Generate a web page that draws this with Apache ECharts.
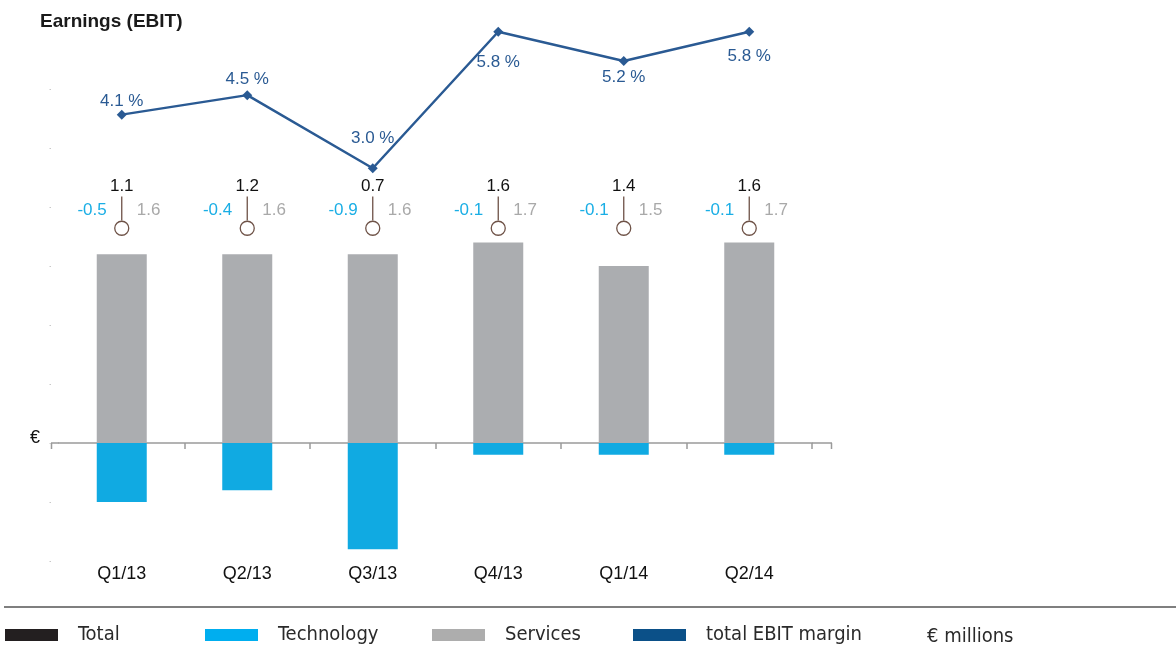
<!DOCTYPE html>
<html>
<head>
<meta charset="utf-8">
<script src="https://cdn.jsdelivr.net/npm/echarts@6/dist/echarts.min.js"></script>
<style>
html,body{margin:0;padding:0;background:#fff;}
#chart{width:1176px;height:645px;}
</style>
</head>
<body>
<div id="chart"></div>
<script>
// ---- data ----
const categories = ['Q1/13', 'Q2/13', 'Q3/13', 'Q4/13', 'Q1/14', 'Q2/14'];
const totalValues = [1.1, 1.2, 0.7, 1.6, 1.4, 1.6];
const technologyValues = [-0.5, -0.4, -0.9, -0.1, -0.1, -0.1];
const servicesValues = [1.6, 1.6, 1.6, 1.7, 1.5, 1.7];
const marginValues = [4.1, 4.5, 3.0, 5.8, 5.2, 5.8];

// ---- style config ----
const marginLabelPlacement = ['top', 'top', 'top', 'bottom', 'bottom', 'bottom'];
const marginLabelDistance = [0, 2, 16, 17, 3, 11];
const LINE_BLUE = '#2a5a93';
const TECH_BLUE = '#10aae2';
const SERV_GRAY = '#abadb0';
const MARK_BROWN = '#6e5247';
const labelFont = "'Liberation Sans', Arial, sans-serif";
const narrowFont = "'Liberation Sans Narrow', 'DejaVu Sans Condensed', 'Liberation Sans', sans-serif";

const chart = echarts.init(document.getElementById('chart'), null, {renderer: 'canvas'});

const GRID_L = 59, GRID_R = 1176 - 812;

const totalData = categories.map((c, i) => [i, totalValues[i], technologyValues[i], servicesValues[i]]);

function renderTotal(params, api) {
  const i = api.value(0);
  const x = api.coord([i, 0])[0];
  const yCircle = api.coord([i, 1.82])[1];
  const yLineTop = api.coord([i, 2.09])[1];
  const yLineBot = api.coord([i, 1.885])[1];
  const yTotal = api.coord([i, 2.175])[1];
  const ySide = api.coord([i, 1.97])[1];
  const fmt = v => v.toFixed(1);
  return {
    type: 'group',
    children: [
      {type: 'line', shape: {x1: x, y1: yLineTop, x2: x, y2: yLineBot}, style: {stroke: MARK_BROWN, lineWidth: 1.3}},
      {type: 'circle', shape: {cx: x, cy: yCircle, r: 7}, style: {fill: '#fff', stroke: MARK_BROWN, lineWidth: 1.3}},
      {type: 'text', x: x, y: yTotal, style: {text: fmt(api.value(1)), fill: '#111', font: '17px ' + labelFont, align: 'center', verticalAlign: 'middle'}},
      {type: 'text', x: x - 15, y: ySide, style: {text: fmt(api.value(2)), fill: '#1aaee5', font: '17px ' + labelFont, align: 'right', verticalAlign: 'middle'}},
      {type: 'text', x: x + 15, y: ySide, style: {text: fmt(api.value(3)), fill: '#a9a9a9', font: '17px ' + labelFont, align: 'left', verticalAlign: 'middle'}}
    ]
  };
}

const marginData = marginValues.map((v, i) => ({
  value: v,
  label: {position: marginLabelPlacement[i], distance: marginLabelDistance[i]}
}));

function legendItem(name, color, left) {
  return {
    left: left, top: 623, padding: 0,
    itemWidth: 53, itemHeight: 12, selectedMode: false,
    data: [{name: name, icon: 'rect', itemStyle: {color: color}}],
    textStyle: {fontFamily: narrowFont, fontSize: 20, color: '#2a2a2a', padding: [4, 0, 0, 15], lineHeight: 20}
  };
}

const option = {
  animation: false,
  backgroundColor: '#fff',
  title: {
    text: 'Earnings (EBIT)', left: 35, top: 7,
    textStyle: {fontFamily: labelFont, fontWeight: 'bold', fontSize: 19, color: '#1a1a1a'}
  },
  legend: [
    legendItem('Total', '#231f20', 5),
    legendItem('Technology', '#00aeef', 205),
    legendItem('Services', '#adadad', 432),
    legendItem('total EBIT margin', '#0b5088', 633)
  ],
  grid: [
    {left: GRID_L, right: GRID_R, top: 89, height: 472, outerBoundsMode: 'none', containLabel: false},
    {left: GRID_L, right: GRID_R, top: 22, height: 195, outerBoundsMode: 'none', containLabel: false},
    {left: GRID_L, right: GRID_R, top: 89, height: 472, outerBoundsMode: 'none', containLabel: false}
  ],
  xAxis: [
    {
      type: 'category', gridIndex: 0, data: categories, boundaryGap: true,
      axisLine: {onZero: true, lineStyle: {color: '#9a9a9a', width: 1.5}},
      axisTick: {show: true, length: 6, interval: (idx) => idx !== 0, lineStyle: {color: '#9a9a9a', width: 1.5}},
      axisLabel: {margin: 4, fontFamily: labelFont, fontSize: 18, color: '#111'}
    },
    {
      type: 'category', gridIndex: 1, data: categories, boundaryGap: true,
      axisLine: {show: false}, axisTick: {show: false}, axisLabel: {show: false}
    },
    {
      type: 'category', gridIndex: 2, data: categories, boundaryGap: true,
      axisLine: {show: false}, axisTick: {show: false}, axisLabel: {show: false}
    }
  ],
  yAxis: [
    {
      type: 'value', gridIndex: 0, min: -1, max: 3, interval: 0.5, offset: 8,
      axisLine: {show: false}, splitLine: {show: false}, axisLabel: {show: false},
      axisTick: {show: true, length: 1.5, lineStyle: {color: '#c8c8c8', width: 1}}
    },
    {
      type: 'value', gridIndex: 1, min: 2, max: 6,
      axisLine: {show: false}, splitLine: {show: false}, axisLabel: {show: false}, axisTick: {show: false}
    },
    {
      type: 'value', gridIndex: 2, min: -1, max: 3,
      axisLine: {show: false}, splitLine: {show: false}, axisLabel: {show: false}, axisTick: {show: false}
    }
  ],
  series: [
    {
      name: 'Services', type: 'bar', stack: 'ebit', xAxisIndex: 0, yAxisIndex: 0,
      barWidth: 50, data: servicesValues, itemStyle: {color: SERV_GRAY}
    },
    {
      name: 'Technology', type: 'bar', stack: 'ebit', xAxisIndex: 0, yAxisIndex: 0,
      barWidth: 50, data: technologyValues, itemStyle: {color: TECH_BLUE}
    },
    {
      name: 'Total', type: 'custom', xAxisIndex: 2, yAxisIndex: 2,
      encode: {x: 0, y: 1},
      data: totalData, renderItem: renderTotal, z: 5
    },
    {
      name: 'total EBIT margin', type: 'line', xAxisIndex: 1, yAxisIndex: 1,
      data: marginData, symbol: 'diamond', symbolSize: 10,
      lineStyle: {color: LINE_BLUE, width: 2.5}, itemStyle: {color: LINE_BLUE},
      label: {show: true, formatter: p => p.value.toFixed(1) + ' %', fontFamily: labelFont, fontSize: 17, color: LINE_BLUE}
    }
  ],
  graphic: [
    {type: 'text', left: 30, top: 429, style: {text: '€', font: '18px ' + labelFont, fill: '#111'}},
    {type: 'line', shape: {x1: 4, y1: 607, x2: 1176, y2: 607}, style: {stroke: '#555', lineWidth: 1.5}},
    {type: 'text', left: 927, top: 627, style: {text: '€ millions', font: '20px ' + narrowFont, fill: '#2a2a2a'}}
  ]
};

chart.setOption(option);

const zeroY = chart.convertToPixel({gridIndex: 0}, [0, 0])[1];
chart.setOption({
  graphic: option.graphic.concat([
    {type: 'line', shape: {x1: 51, y1: zeroY, x2: GRID_L, y2: zeroY}, style: {stroke: '#9a9a9a', lineWidth: 1.5}},
    {type: 'line', shape: {x1: 812, y1: zeroY, x2: 832, y2: zeroY}, style: {stroke: '#9a9a9a', lineWidth: 1.5}},
    {type: 'line', shape: {x1: 51.5, y1: zeroY, x2: 51.5, y2: zeroY + 6}, style: {stroke: '#9a9a9a', lineWidth: 1.5}},
    {type: 'line', shape: {x1: 831.5, y1: zeroY, x2: 831.5, y2: zeroY + 6}, style: {stroke: '#9a9a9a', lineWidth: 1.5}}
  ])
});
</script>
</body>
</html>
